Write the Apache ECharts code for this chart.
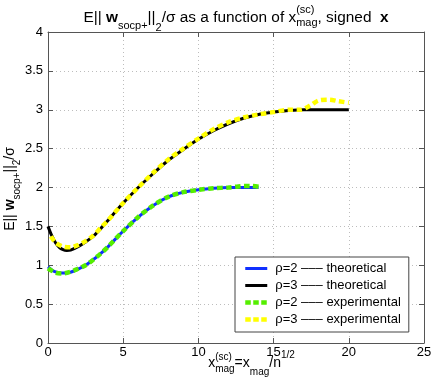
<!DOCTYPE html>
<html><head><meta charset="utf-8">
<script src="https://cdn.jsdelivr.net/npm/echarts@6/dist/echarts.min.js"></script>
<style>html,body{margin:0;padding:0;background:#fff}#c{width:436px;height:382px}</style>
</head><body><div id="c"></div>
<script>
// ---- data ----
const xTicks = [0, 5, 10, 15, 20, 25];
const yTicks = [0, 0.5, 1, 1.5, 2, 2.5, 3, 3.5, 4];

const seriesNames = ['ρ=2 ––– theoretical', 'ρ=3 ––– theoretical', 'ρ=2 ––– experimental', 'ρ=3 ––– experimental'];

const xTheo2 = [0, 0.25, 0.5, 0.75, 1, 1.25, 1.5, 2, 2.5, 3, 3.5, 4, 5, 6, 7, 8, 9, 10, 11, 12, 13, 14];
const yTheo2 = [0.98, 0.94, 0.915, 0.903, 0.90, 0.903, 0.91, 0.95, 1.0, 1.07, 1.15, 1.24, 1.44, 1.62, 1.77, 1.88, 1.94, 1.97, 1.99, 2.0, 2.0, 2.0];

const xTheo3 = [0, 0.25, 0.5, 0.75, 1, 1.25, 1.5, 2, 2.5, 3, 3.5, 4, 5, 6, 7, 8, 9, 10, 11, 12, 13, 14, 15, 16, 17, 18, 19, 20];
const yTheo3 = [1.5, 1.38, 1.29, 1.23, 1.20, 1.19, 1.195, 1.24, 1.30, 1.37, 1.47, 1.58, 1.80, 2.0, 2.18, 2.35, 2.49, 2.62, 2.73, 2.82, 2.89, 2.94, 2.97, 2.99, 3.0, 3.0, 3.0, 3.0];

const xExp2 = [0, 0.5, 1, 1.5, 2, 2.5, 3, 3.5, 4, 5, 6, 7, 8, 9, 10, 11, 12, 12.5, 13, 13.5, 14];
const yExp2 = [0.96, 0.905, 0.895, 0.915, 0.955, 1.0, 1.07, 1.15, 1.24, 1.44, 1.62, 1.77, 1.88, 1.94, 1.97, 1.99, 2.0, 2.01, 2.02, 2.02, 2.01];

const xExp3 = [0.2, 0.5, 1, 1.5, 2, 2.5, 3, 3.5, 4, 5, 6, 7, 8, 9, 10, 11, 12, 13, 14, 15, 16, 16.8, 17.4, 18, 18.7, 19.3, 20];
const yExp3 = [1.37, 1.29, 1.24, 1.23, 1.26, 1.31, 1.38, 1.48, 1.58, 1.80, 2.0, 2.19, 2.36, 2.5, 2.63, 2.75, 2.84, 2.90, 2.94, 2.97, 3.0, 3.0, 3.05, 3.12, 3.13, 3.11, 3.09];

// ---- helpers ----
const FONT = '"Liberation Sans", Arial, Helvetica, sans-serif';
const zip = (xs, ys) => xs.map((x, i) => [x, ys[i]]);
const ctx = document.createElement('canvas').getContext('2d');
function fontOf(p) { return (p.bold ? 'bold ' : '') + (p.size || 14) + 'px ' + FONT; }
function measure(p) { ctx.font = fontOf(p); return ctx.measureText(p.t).width; }

// TeX-like layout: pieces laid out left to right, 'stack' pieces share the x of the previous one
function texGroup(pieces, cx, cy, rot) {
  let x = 0, prevStart = 0, prevW = 0;
  const kids = [];
  pieces.forEach(p => {
    const w = measure(p);
    let start;
    if (p.stack) { start = prevStart; prevW = Math.max(prevW, w); x = start + prevW; }
    else { start = x; prevStart = start; prevW = w; x += w; }
    kids.push({ type: 'text', x: start, y: p.dy || 0, style: { text: p.t, font: fontOf(p), fill: '#000', align: 'left', verticalAlign: 'middle' } });
  });
  kids.forEach(k => { k.x -= x / 2; });
  return { type: 'group', x: cx, y: cy, rotation: rot || 0, z: 100, children: kids };
}

const TM = 15.4, TS = 11;
const titlePieces = [
  { t: 'E|| ', size: TM }, { t: 'w', bold: true, size: TM }, { t: 'socp+', size: TS, dy: 7.7 }, { t: '||', size: TM }, { t: '2', size: TS, dy: 9.9 },
  { t: '/σ as a function of x', size: TM }, { t: '(sc)', size: TS, dy: -8.5 }, { t: 'mag', size: TS, dy: 5, stack: true },
  { t: ', signed  ', size: TM }, { t: 'x', bold: true, size: TM }
];
const xlabPieces = [
  { t: 'x' }, { t: '(sc)', size: 10, dy: -5.7 }, { t: 'mag', size: 10, dy: 6.5, stack: true },
  { t: '=x' }, { t: 'mag', size: 10, dy: 10 }, { t: '/n' }, { t: '1/2', size: 10, dy: -7.7 }
];
const ylabPieces = [
  { t: 'E|| ' }, { t: 'w', bold: true }, { t: 'socp+', size: 10, dy: 7 }, { t: '||' }, { t: '2', size: 10, dy: 7 }, { t: '/σ' }
];

const axisCol = '#555';
function xAx(pos, labels) {
  return {
    type: 'value', position: pos, min: xTicks[0], max: xTicks[xTicks.length - 1], interval: xTicks[1] - xTicks[0],
    axisLine: { show: true, onZero: false, lineStyle: { color: axisCol, width: 1 } },
    axisTick: { show: true, inside: true, length: 5, lineStyle: { color: axisCol } },
    axisLabel: { show: labels, color: '#000', fontSize: 13, fontFamily: FONT, margin: 3 },
    splitLine: { show: labels, lineStyle: { type: [1, 3], color: '#bdbdbd', width: 1 } }
  };
}
function yAx(pos, labels) {
  return {
    type: 'value', position: pos, min: yTicks[0], max: yTicks[yTicks.length - 1], interval: yTicks[1] - yTicks[0],
    axisLine: { show: true, onZero: false, lineStyle: { color: axisCol, width: 1 } },
    axisTick: { show: true, inside: true, length: 5, lineStyle: { color: axisCol } },
    axisLabel: { show: labels, color: '#000', fontSize: 13, fontFamily: FONT, margin: 5 },
    splitLine: { show: labels, lineStyle: { type: [1, 3], color: '#bdbdbd', width: 1 } }
  };
}

const colors = ['#1030ff', '#000000', '#55ee00', '#ffff00'];
const solid = c => ({ color: c, width: 3, type: 'solid' });
const dotted = (c, d) => ({ color: c, width: 4.5, type: d, cap: 'butt' });

function lineSeries(name, data, color, dashed, z) {
  return {
    name: name, type: 'line', data: data, symbol: 'none', smooth: 0.3, z: z,
    xAxisIndex: 0, yAxisIndex: 0,
    itemStyle: { color: color },
    lineStyle: dashed ? dotted(color, [5.5, 3.5]) : solid(color)
  };
}

const chart = echarts.init(document.getElementById('c'), null, { renderer: 'canvas' });
chart.setOption({
  animation: false,
  backgroundColor: '#fff',
  grid: { left: 48, right: 12, top: 32, bottom: 39, containLabel: false },
  xAxis: [xAx('bottom', true), xAx('top', false)],
  yAxis: [yAx('left', true), yAx('right', false)],
  legend: {
    orient: 'vertical', left: 235, top: 257,
    padding: [5, 8, 6, 8], itemGap: 4, itemWidth: 22, itemHeight: 14,
    backgroundColor: '#fff', borderColor: '#444', borderWidth: 1,
    itemStyle: { opacity: 0 },
    textStyle: { fontSize: 13, fontFamily: FONT, color: '#000', padding: [0, 0, 0, 3] },
    data: [
      { name: seriesNames[0], itemStyle: { opacity: 0 }, lineStyle: solid(colors[0]) },
      { name: seriesNames[1], itemStyle: { opacity: 0 }, lineStyle: solid(colors[1]) },
      { name: seriesNames[2], itemStyle: { opacity: 0 }, lineStyle: dotted(colors[2], [5.5, 2.5]) },
      { name: seriesNames[3], itemStyle: { opacity: 0 }, lineStyle: dotted(colors[3], [5.5, 2.5]) }
    ]
  },
  series: [
    lineSeries(seriesNames[0], zip(xTheo2, yTheo2), colors[0], false, 2),
    lineSeries(seriesNames[1], zip(xTheo3, yTheo3), colors[1], false, 2),
    lineSeries(seriesNames[2], zip(xExp2, yExp2), colors[2], true, 3),
    lineSeries(seriesNames[3], zip(xExp3, yExp3), colors[3], true, 3)
  ],
  graphic: [
    texGroup(titlePieces, 236, 18, 0),
    texGroup(xlabPieces, 251.5, 362.7, 0),
    texGroup(ylabPieces, 10.5, 189, Math.PI / 2)
  ]
});
</script>
</body></html>
